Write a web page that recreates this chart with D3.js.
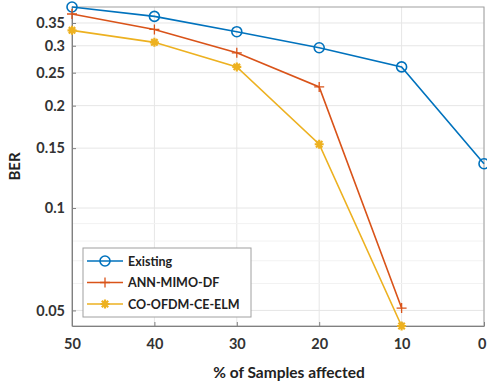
<!DOCTYPE html>
<html><head><meta charset="utf-8">
<script src="https://cdn.jsdelivr.net/npm/d3@7"></script>
<style>body{margin:0;background:#fff}svg{display:block}</style>
</head><body>
<script>
const categories = [50, 40, 30, 20, 10, 0];
const existing = [0.39, 0.366, 0.330, 0.296, 0.260, 0.135];
const annMimoDf = [0.372, 0.335, 0.286, 0.227, 0.0508];
const coOfdm = [0.333, 0.307, 0.260, 0.154, 0.045];
const yTicks = [0.05, 0.1, 0.15, 0.2, 0.25, 0.3, 0.35];
const yTickLabels = ["0.05", "0.1", "0.15", "0.2", "0.25", "0.3", "0.35"];
const yMinorGrid = [0.06, 0.07, 0.08, 0.09];
const seriesNames = ["Existing", "ANN-MIMO-DF", "CO-OFDM-CE-ELM"];
const xLabel = "% of Samples affected";
const yLabel = "BER";

const W = 487, H = 385;
const m = {l: 72, r: 3, t: 7, b: 59};
const svg = d3.select("body").append("svg").attr("width", W).attr("height", H);
const x = d3.scaleLinear().domain([50, 0]).range([m.l, W - m.r]);
const y = d3.scaleLog().domain([0.045, 0.39]).range([H - m.b, m.t]);
const font = "Lato, 'Open Sans', sans-serif";
const colors = ["#0072BD", "#D95319", "#EDB120"];

const g = svg.append("g");
g.selectAll(".vg").data(categories).enter().append("line")
  .attr("x1", d => x(d)).attr("x2", d => x(d)).attr("y1", m.t).attr("y2", H - m.b)
  .attr("stroke", "#e6e6e6").attr("stroke-width", 1);
g.selectAll(".hg").data(yTicks).enter().append("line")
  .attr("x1", m.l).attr("x2", W - m.r).attr("y1", d => y(d)).attr("y2", d => y(d))
  .attr("stroke", "#e6e6e6").attr("stroke-width", 1);
g.selectAll(".hmg").data(yMinorGrid).enter().append("line")
  .attr("x1", m.l).attr("x2", W - m.r).attr("y1", d => y(d)).attr("y2", d => y(d))
  .attr("stroke", "#f2f2f2").attr("stroke-width", 1);

svg.append("rect").attr("x", m.l).attr("y", m.t).attr("width", W - m.r - m.l).attr("height", H - m.b - m.t)
  .attr("fill", "none").attr("stroke", "#a0a0a0").attr("stroke-width", 1);

const xAxis = d3.axisBottom(x).tickValues(categories).tickSizeInner(-4).tickSizeOuter(0).tickPadding(13).tickFormat(d3.format("d"));
const xg = svg.append("g").attr("transform", `translate(0,${H - m.b})`).call(xAxis);
const yAxis = d3.axisLeft(y).tickValues(yTicks).tickSizeInner(-4).tickSizeOuter(0).tickPadding(7)
  .tickFormat((d, i) => yTickLabels[i]);
const yg = svg.append("g").attr("transform", `translate(${m.l},0)`).call(yAxis);
[xg, yg].forEach(a => {
  a.select(".domain").attr("stroke", "#808080");
  a.selectAll(".tick line").attr("stroke", "#808080");
  a.selectAll("text").attr("fill", "#333").attr("font-family", font).attr("font-weight", "bold").attr("font-size", 14.5);
});
xg.selectAll(".tick text").filter(d => d === 0).attr("text-anchor", "end").attr("dx", 2);

const line = d3.line().x((d, i) => x(categories[i])).y(d => y(d));
const data = [existing, annMimoDf, coOfdm];
data.forEach((s, k) => {
  svg.append("path").datum(s).attr("d", line).attr("fill", "none")
    .attr("stroke", colors[k]).attr("stroke-width", 1.6);
});

function marker(sel, k, cx, cy) {
  if (k === 0) {
    sel.append("circle").attr("cx", cx).attr("cy", cy).attr("r", 5)
      .attr("fill", "none").attr("stroke", colors[0]).attr("stroke-width", 1.6);
  } else if (k === 1) {
    sel.append("path").attr("d", `M${cx-5},${cy}H${cx+5}M${cx},${cy-5}V${cy+5}`)
      .attr("stroke", colors[1]).attr("stroke-width", 1.3);
  } else {
    const r = 4.5, r2 = 3.2;
    sel.append("path").attr("d",
      `M${cx-r},${cy}H${cx+r}M${cx},${cy-r}V${cy+r}M${cx-r2},${cy-r2}L${cx+r2},${cy+r2}M${cx-r2},${cy+r2}L${cx+r2},${cy-r2}`)
      .attr("stroke", colors[2]).attr("stroke-width", 2.2);
  }
}
data.forEach((s, k) => {
  s.forEach((v, i) => marker(svg, k, x(categories[i]), y(v)));
});

const lg = svg.append("g");
const lx = 83, ly = 248, lw = 168, lh = 69;
lg.append("rect").attr("x", lx).attr("y", ly).attr("width", lw).attr("height", lh)
  .attr("fill", "#fff").attr("stroke", "#a0a0a0").attr("stroke-width", 1);
seriesNames.forEach((n, k) => {
  const yy = ly + 13 + k * 21.5;
  lg.append("line").attr("x1", lx + 4).attr("x2", lx + 40).attr("y1", yy).attr("y2", yy)
    .attr("stroke", colors[k]).attr("stroke-width", 1.6);
  marker(lg, k, lx + 22, yy);
  lg.append("text").attr("x", lx + 45).attr("y", yy + 4.5).text(n)
    .attr("font-family", font).attr("font-weight", "bold").attr("font-size", 12.5).attr("fill", "#222");
});

svg.append("text").attr("x", 289).attr("y", 378).attr("text-anchor", "middle")
  .attr("font-family", font).attr("font-weight", "bold").attr("font-size", 15.5).attr("fill", "#222").text(xLabel);
svg.append("text").attr("transform", `translate(20,${(m.t + H - m.b) / 2}) rotate(-90)`).attr("text-anchor", "middle")
  .attr("font-family", font).attr("font-weight", "bold").attr("font-size", 15).attr("fill", "#222").text(yLabel);
</script>
</body></html>
